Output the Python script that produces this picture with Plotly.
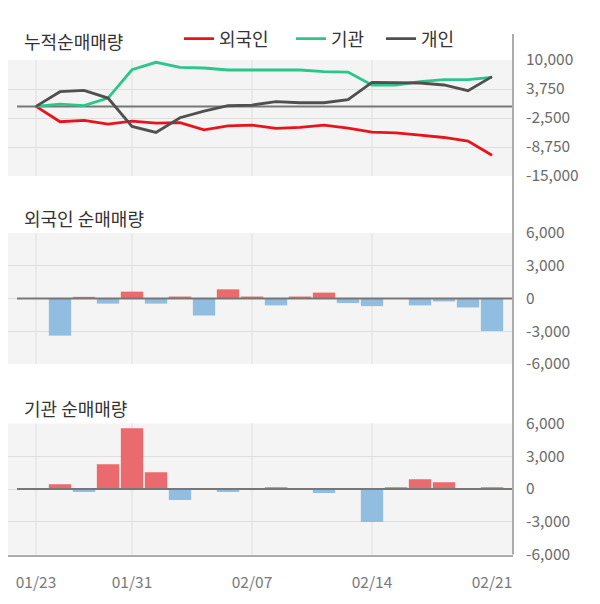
import plotly.graph_objects as go

# ---------------- data ----------------
DATES = ['01/23', '01/28', '01/29', '01/30', '01/31', '02/03', '02/04', '02/05', '02/06', '02/07',
         '02/10', '02/11', '02/12', '02/13', '02/14', '02/17', '02/18', '02/19', '02/20', '02/21']
LABEL_DATES = ['01/23', '01/31', '02/07', '02/14', '02/21']
GRID_DATES = ['01/23', '01/31', '02/07', '02/14']

# cumulative net buying (top panel)
FOREIGN_CUM = [0, -3310, -3020, -3820, -3170, -3600, -3500, -5040, -4180, -4030,
               -4750, -4540, -4030, -4680, -5540, -5690, -6190, -6700, -7490, -10510]
INST_CUM = [0, 500, 150, 1800, 7900, 9500, 8400, 8280, 7850, 7850,
            7850, 7850, 7490, 7400, 4610, 4610, 5330, 5760, 5760, 6260]
INDIV_CUM = [0, 3170, 3460, 1800, -4320, -5620, -2450, -1000, 140, 290,
             1010, 790, 790, 1450, 5180, 5180, 5040, 4610, 3380, 6410]

# daily net buying
FOREIGN_NET = [0, -3400, 150, -470, 630, -470, 180, -1560, 840, 180,
               -630, 180, 540, -420, -700, 0, -630, -270, -820, -2980]
INST_NET = [0, 430, -280, 2260, 5570, 1530, -1010, 0, -280, 0,
            150, 0, -370, 0, -3030, 150, 890, 610, 0, 150]

CUM_TICKS = [10000, 3750, -2500, -8750, -15000]
CUM_TICK_TEXT = ['10,000', '3,750', '-2,500', '-8,750', '-15,000']
NET_TICKS = [6000, 3000, 0, -3000, -6000]
NET_TICK_TEXT = ['6,000', '3,000', '0', '-3,000', '-6,000']

TITLES = ['누적순매매량', '외국인 순매매량', '기관 순매매량']
SERIES_NAMES = ['외국인', '기관', '개인']

# ---------------- style / geometry ----------------
OFF = 8                      # page body margin
W, H = 600 - OFF, 604 - OFF  # figure size
FONT = 'Noto Sans CJK KR, Noto Sans, sans-serif'
RED_LINE = '#e8141c'
GREEN_LINE = '#2bc68c'
GRAY_LINE = '#505050'
BAR_POS = '#ea6a6d'
BAR_NEG = '#91bde1'
GRID = '#dedede'
PLOT_BG = '#f4f4f4'


def fx(px):
    return (px - OFF) / W


def fy(px):
    return 1 - (px - OFF) / H


X_RIGHT = 513
X_LEFT = OFF
STEP, X0 = 24.0, 36.0
XRANGE = [(X_LEFT - X0) / STEP, (X_RIGHT - X0) / STEP]

fig = go.Figure()
LEG_X = [179, 291, 381]
for i, (name, vals, col) in enumerate(zip(SERIES_NAMES, [FOREIGN_CUM, INST_CUM, INDIV_CUM],
                                          [RED_LINE, GREEN_LINE, GRAY_LINE])):
    fig.add_trace(go.Scatter(x=DATES, y=vals, name=name, mode='lines',
                             line=dict(color=col, width=2.8),
                             legend='legend' if i == 0 else 'legend%d' % (i + 1),
                             xaxis='x', yaxis='y'))

fig.add_trace(go.Bar(x=DATES, y=FOREIGN_NET, showlegend=False,
                     marker=dict(color=[BAR_POS if v >= 0 else BAR_NEG for v in FOREIGN_NET],
                                 line=dict(width=0)),
                     xaxis='x2', yaxis='y2'))
fig.add_trace(go.Bar(x=DATES, y=INST_NET, showlegend=False,
                     marker=dict(color=[BAR_POS if v >= 0 else BAR_NEG for v in INST_NET],
                                 line=dict(width=0)),
                     xaxis='x3', yaxis='y3'))

xcommon = dict(type='category', categoryorder='array', categoryarray=DATES,
               range=XRANGE, domain=[0, fx(X_RIGHT)], showgrid=False, zeroline=False,
               fixedrange=True, ticks='', automargin=False)
ycommon = dict(side='right', showgrid=True, gridcolor=GRID, gridwidth=1, zeroline=False,
               showline=False, ticks='', ticklabelstandoff=12, fixedrange=True,
               automargin=False,
               tickfont=dict(family=FONT, size=15.5, color='#6b6b6b'))


def legend_at(x):
    return dict(orientation='h', x=fx(x), y=fy(39), xanchor='left', yanchor='middle',
                bgcolor='rgba(0,0,0,0)', borderwidth=0,
                font=dict(family=FONT, size=18, color='#333333'), itemwidth=30)


fig.update_layout(
    width=W, height=H, autosize=False,
    margin=dict(l=0, r=0, t=0, b=0, pad=0, autoexpand=False),
    paper_bgcolor='white', plot_bgcolor=PLOT_BG,
    bargap=0.07,
    font=dict(family=FONT),
    xaxis=dict(**xcommon, anchor='y', showticklabels=False),
    xaxis2=dict(**xcommon, anchor='y2', showticklabels=False),
    xaxis3=dict(**xcommon, anchor='y3', tickvals=LABEL_DATES, ticktext=LABEL_DATES,
                showline=True, linecolor='#acacac', linewidth=2,
                ticklabelstandoff=13,
                tickfont=dict(family=FONT, size=15.5, color='#7a7a7a')),
    yaxis=dict(**ycommon, anchor='x', domain=[fy(176), fy(60)], range=[-15000, 10000],
               tickvals=CUM_TICKS, ticktext=CUM_TICK_TEXT),
    yaxis2=dict(**ycommon, anchor='x2', domain=[fy(364), fy(233)], range=[-6000, 6000],
                tickvals=NET_TICKS, ticktext=NET_TICK_TEXT),
    yaxis3=dict(**ycommon, anchor='x3', domain=[fy(554.5), fy(423.5)], range=[-6000, 6000],
                tickvals=NET_TICKS, ticktext=NET_TICK_TEXT),
    legend=legend_at(LEG_X[0]),
    legend2=legend_at(LEG_X[1]),
    legend3=legend_at(LEG_X[2]),
    showlegend=True,
)

shapes = []
for xr, yr in [('x', 'y'), ('x2', 'y2'), ('x3', 'y3')]:
    for d in GRID_DATES:
        shapes.append(dict(type='line', xref=xr, yref=yr + ' domain', x0=d, x1=d, y0=0, y1=1,
                           line=dict(color=GRID, width=1), layer='below'))
    shapes.append(dict(type='line', xref=xr + ' domain', yref=yr,
                       x0=(17 - X_LEFT) / (X_RIGHT - X_LEFT), x1=1, y0=0, y1=0,
                       line=dict(color='#777777', width=2),
                       layer='below' if xr == 'x' else 'above'))
# right axis rule
shapes.append(dict(type='line', xref='paper', yref='paper', x0=fx(X_RIGHT), x1=fx(X_RIGHT),
                   y0=fy(554.5), y1=fy(34), line=dict(color='#acacac', width=2)))
fig.update_layout(shapes=shapes)

for title, ypx in zip(TITLES, [41, 218, 408]):
    fig.add_annotation(text=title, xref='paper', yref='paper', x=fx(22), y=fy(ypx),
                       xanchor='left', yanchor='middle', showarrow=False,
                       font=dict(family=FONT, size=18, color='#333333'))

fig.write_html('out.html')
